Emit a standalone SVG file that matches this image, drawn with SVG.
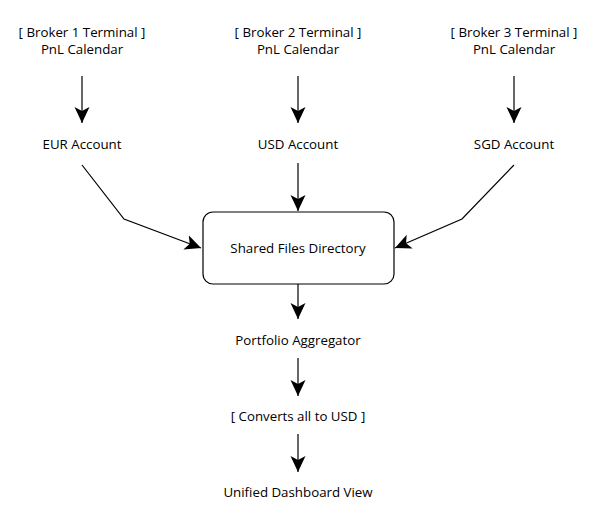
<svg xmlns="http://www.w3.org/2000/svg" width="596" height="517" viewBox="0 0 596 517">
<defs>
<style>
text{font-family:"Open Sans","Noto Sans","DejaVu Sans",sans-serif;font-size:13.3px;fill:#000;text-anchor:middle;dominant-baseline:central}
.e{fill:none;stroke:#000;stroke-width:1.2}
.box{fill:#fff;stroke:#000;stroke-width:1.2}
</style>
<marker id="ah" markerUnits="userSpaceOnUse" viewBox="0 0 16 16" refX="16" refY="8" markerWidth="16" markerHeight="16" orient="auto">
<path d="M0,0.5 L16,8 L0,15.5 L4,8 z" fill="#000"/>
</marker>
</defs>
<rect width="596" height="517" fill="#fff"/>
<g id="connectors">
<path class="e" d="M82,76 L82,123" marker-end="url(#ah)"/>
<path class="e" d="M298,76 L298,123" marker-end="url(#ah)"/>
<path class="e" d="M514,76 L514,123" marker-end="url(#ah)"/>
<path class="e" d="M82,165 L124,219 L201,248" marker-end="url(#ah)"/>
<path class="e" d="M298,163 L298,211" marker-end="url(#ah)"/>
<path class="e" d="M514,165 L462,219 L395,248" marker-end="url(#ah)"/>
<path class="e" d="M298,284 L298,319" marker-end="url(#ah)"/>
<path class="e" d="M298,358 L298,396" marker-end="url(#ah)"/>
<path class="e" d="M298,434 L298,472" marker-end="url(#ah)"/>
</g>
<g id="broker1"><text x="82" y="32">[ Broker 1 Terminal ]</text><text x="82" y="49">PnL Calendar</text></g>
<g id="broker2"><text x="298" y="32">[ Broker 2 Terminal ]</text><text x="298" y="49">PnL Calendar</text></g>
<g id="broker3"><text x="514" y="32">[ Broker 3 Terminal ]</text><text x="514" y="49">PnL Calendar</text></g>
<g id="eur"><text x="82" y="144">EUR Account</text></g>
<g id="usd"><text x="298" y="144">USD Account</text></g>
<g id="sgd"><text x="514" y="144">SGD Account</text></g>
<g id="shared"><rect class="box" x="203" y="212" width="191" height="72" rx="10"/><text x="298" y="248">Shared Files Directory</text></g>
<g id="aggregator"><text x="298" y="340">Portfolio Aggregator</text></g>
<g id="converts"><text x="298" y="416">[ Converts all to USD ]</text></g>
<g id="dashboard"><text x="298" y="492">Unified Dashboard View</text></g>
</svg>
